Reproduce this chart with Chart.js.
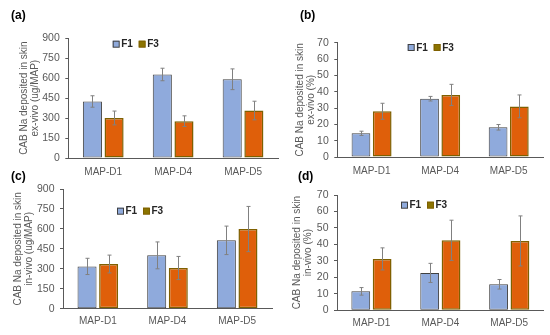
<!DOCTYPE html>
<html>
<head>
<meta charset="utf-8">
<script src="https://cdn.jsdelivr.net/npm/chart.js@4.4.1/dist/chart.umd.min.js"></script>
<style>
body { margin: 0; background: #fff; }
#fig { position: relative; width: 550px; height: 335px; overflow: hidden; font-family: "Liberation Sans", Arial, sans-serif; }
canvas { position: absolute; }
.plabel { position: absolute; font-weight: bold; font-size: 12px; line-height: 12px; color: #000; }
</style>
</head>
<body>
<div id="fig">
  <canvas id="chartA" width="280" height="185" style="left:0;top:0"></canvas>
  <canvas id="chartB" width="275" height="185" style="left:275px;top:0"></canvas>
  <canvas id="chartC" width="280" height="170" style="left:0;top:165px"></canvas>
  <canvas id="chartD" width="275" height="170" style="left:275px;top:165px"></canvas>
  <div class="plabel" style="left:11px;top:9px">(a)</div>
  <div class="plabel" style="left:300px;top:9px">(b)</div>
  <div class="plabel" style="left:11px;top:170px">(c)</div>
  <div class="plabel" style="left:298px;top:170px">(d)</div>
</div>
<script>
var categories = ['MAP-D1', 'MAP-D4', 'MAP-D5'];
var seriesNames = ['F1', 'F3'];

// tick labels
var massTicks = [0, 150, 300, 450, 600, 750, 900];
var pctTicks = [0, 10, 20, 30, 40, 50, 60, 70];

// (a) ex-vivo, ug/MAP
var exVivoMassF1 = [425, 628, 592];
var exVivoMassF1Err = [43, 47, 78];
var exVivoMassF3 = [301, 277, 357];
var exVivoMassF3Err = [52, 40, 70];

// (b) ex-vivo, %
var exVivoPctF1 = [14.5, 35.7, 18.2];
var exVivoPctF1Err = [1.3, 1.4, 1.7];
var exVivoPctF3 = [28, 38, 31];
var exVivoPctF3Err = [4.9, 6.5, 7];

// (c) in-vivo, ug/MAP
var inVivoMassF1 = [318, 401, 514];
var inVivoMassF1Err = [61, 101, 107];
var inVivoMassF3 = [336, 306, 599];
var inVivoMassF3Err = [67, 87, 170];

// (d) in-vivo, %
var inVivoPctF1 = [11.5, 22.7, 15.8];
var inVivoPctF1Err = [2.3, 5.8, 2.9];
var inVivoPctF3 = [31.2, 42.5, 42.1];
var inVivoPctF3Err = [6.7, 12.2, 15.2];

var FONT = '"Liberation Sans", Arial, sans-serif';
var TEXT = '#595959';
var AXIS = '#595959';
var F1_FILL = '#8faadc', F1_EDGE = '#404040';
var F3_FILL = '#df5f0a', F3_EDGE = '#7f6000';
var SWATCH = ['#8faadc', '#8b7400'];
var ERR = '#808080';

// error bars drawn from the y scale
var errorBars = {
    id: 'errorBars',
    afterDatasetsDraw: function(chart) {
        var ctx = chart.ctx;
        var yScale = chart.scales.y;
        ctx.save();
        ctx.strokeStyle = ERR;
        ctx.lineWidth = 1;
        chart.data.datasets.forEach(function(ds, i) {
            var meta = chart.getDatasetMeta(i);
            meta.data.forEach(function(bar, j) {
                var v = ds.data[j], e = ds.errors[j];
                var top = yScale.getPixelForValue(v + e);
                var bot = yScale.getPixelForValue(v - e);
                var x = Math.round(bar.x) + 0.5;
                ctx.beginPath();
                ctx.moveTo(x, top); ctx.lineTo(x, bot);
                ctx.moveTo(x - 2, top); ctx.lineTo(x + 2, top);
                ctx.moveTo(x - 2, bot); ctx.lineTo(x + 2, bot);
                ctx.stroke();
            });
        });
        ctx.restore();
    }
};

// little legend inside the plot
var boxLegend = {
    id: 'boxLegend',
    afterDraw: function(chart, args, opts) {
        var ctx = chart.ctx;
        ctx.save();
        chart.data.datasets.forEach(function(ds, i) {
            var x = opts.x + i * 26, y = opts.y;
            ctx.fillStyle = SWATCH[i];
            ctx.fillRect(x, y, 6.5, 6.5);
            ctx.strokeStyle = ds.borderColor;
            ctx.lineWidth = 1;
            ctx.strokeRect(x + 0.5, y + 0.5, 6, 6);
            ctx.fillStyle = '#262626';
            ctx.font = 'bold 10px ' + FONT;
            ctx.textBaseline = 'middle';
            ctx.fillText(ds.label, x + 8.5, y + 3.8);
        });
        ctx.restore();
    }
};

function drawPanel(id, f1, f1Err, f3, f3Err, ticks, title, g) {
    new Chart(document.getElementById(id), {
        type: 'bar',
        data: {
            labels: categories,
            datasets: [
                {label: seriesNames[0], data: f1, errors: f1Err, backgroundColor: F1_FILL,
                 borderColor: F1_EDGE, borderWidth: 1, borderSkipped: false},
                {label: seriesNames[1], data: f3, errors: f3Err, backgroundColor: F3_FILL,
                 borderColor: F3_EDGE, borderWidth: 1.5, borderSkipped: false}
            ]
        },
        options: {
            responsive: false,
            animation: false,
            datasets: {bar: {categoryPercentage: 0.62, barPercentage: 0.88}},
            layout: {padding: {left: 0, right: g.pr, top: g.pt, bottom: g.pb}},
            plugins: {
                legend: {display: false},
                tooltip: {enabled: false},
                boxLegend: {x: g.lx, y: g.ly}
            },
            scales: {
                x: {
                    grid: {display: true, drawOnChartArea: false, drawTicks: false},
                    border: {color: AXIS, width: 1},
                    ticks: {color: TEXT, font: {family: FONT, size: 10}, padding: g.xPad},
                    afterFit: function(s) { s.height = 20; }
                },
                y: {
                    min: ticks[0],
                    max: ticks[ticks.length - 1],
                    grid: {display: true, drawOnChartArea: false, drawTicks: true, tickLength: 3, color: AXIS},
                    border: {color: AXIS, width: 1},
                    ticks: {color: TEXT, font: {family: FONT, size: 10.5}, padding: 5.5},
                    title: {display: true, text: title, color: TEXT,
                            font: {family: FONT, size: 10, lineHeight: 1.1},
                            padding: {top: g.tPad, bottom: 0}},
                    afterBuildTicks: function(s) {
                        s.ticks = ticks.map(function(v) { return {value: v}; });
                    },
                    afterFit: function(s) { s.width = g.yw; }
                }
            }
        },
        plugins: [errorBars, boxLegend]
    });
}

drawPanel('chartA', exVivoMassF1, exVivoMassF1Err, exVivoMassF3, exVivoMassF3Err, massTicks,
    ['CAB Na deposited in skin', 'ex-vivo (ug/MAP)'],
    {yw: 68.3, pr: 2, pt: 38.3, pb: 7, tPad: 18.5, xPad: 8, lx: 112.7, ly: 40.7});
drawPanel('chartB', exVivoPctF1, exVivoPctF1Err, exVivoPctF3, exVivoPctF3Err, pctTicks,
    ['CAB Na deposited in skin', 'ex-vivo (%)'],
    {yw: 62.3, pr: 7, pt: 42.7, pb: 8, tPad: 19.5, xPad: 8.5, lx: 132.7, ly: 44});
drawPanel('chartC', inVivoMassF1, inVivoMassF1Err, inVivoMassF3, inVivoMassF3Err, massTicks,
    ['CAB Na deposited in skin', 'in-vivo (ug/MAP)'],
    {yw: 63, pr: 8, pt: 24, pb: 6.3, tPad: 13, xPad: 7, lx: 117, ly: 42.7});
drawPanel('chartD', inVivoPctF1, inVivoPctF1Err, inVivoPctF3, inVivoPctF3Err, pctTicks,
    ['CAB Na deposited in skin', 'in-vivo (%)'],
    {yw: 62, pr: 6.3, pt: 30, pb: 4.7, tPad: 16.5, xPad: 7, lx: 126, ly: 36.7});
</script>
</body>
</html>
